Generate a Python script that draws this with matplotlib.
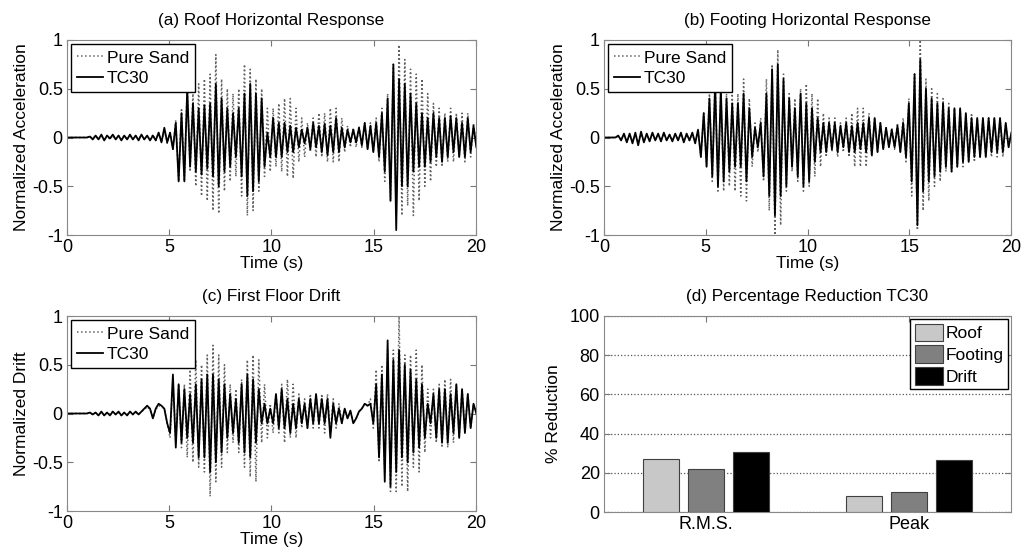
import numpy as np
import matplotlib
matplotlib.use("Agg")
import matplotlib.pyplot as plt

plt.rcParams['font.family'] = ['Liberation Sans', 'DejaVu Sans']

# peak values of each record, one every 0.14 s
dt = 0.14

roof_sand = [
    0, 0, 0, 0, 0, 0, 0, 0, 0.01, -0.01,
    0.02, -0.02, 0.02, -0.02, 0.02, -0.02, 0.02, -0.02, 0.02, -0.02,
    0.02, -0.02, 0.02, -0.02, 0.02, -0.02, 0.03, -0.02, 0.02, -0.03,
    0.03, -0.03, 0.05, -0.05, 0.08, -0.06, 0.05, -0.12, 0.18, -0.45,
    0.3, -0.45, 0.55, -0.35, 0.45, -0.5, 0.55, -0.6, 0.6, -0.65,
    0.65, -0.75, 0.85, -0.78, 0.6, -0.55, 0.5, -0.45, 0.45, -0.4,
    0.5, -0.6, 0.75, -0.8, 0.7, -0.75, 0.6, -0.55, 0.5, -0.4,
    0.3, -0.35, 0.3, -0.3, 0.35, -0.35, 0.4, -0.4, 0.4, -0.42,
    0.3, -0.25, 0.2, -0.2, 0.15, -0.15, 0.2, -0.2, 0.25, -0.2,
    0.25, -0.25, 0.3, -0.25, 0.3, -0.25, 0.2, -0.15, 0.12, -0.1,
    0.1, -0.1, 0.12, -0.1, 0.15, -0.12, 0.15, -0.15, 0.2, -0.25,
    0.3, -0.45, 0.45, -0.65, 0.75, -0.8, 0.95, -0.8, 0.8, -0.7,
    0.7, -0.8, 0.65, -0.65, 0.6, -0.5, 0.45, -0.45, 0.35, -0.3,
    0.3, -0.3, 0.25, -0.25, 0.3, -0.25, 0.25, -0.2, 0.25, -0.25,
    0.25, -0.2, 0.15, -0.1]
roof_tc30 = [
    0, 0, 0, 0, 0, 0, 0, 0, 0.01, -0.02,
    0.02, -0.02, 0.03, -0.03, 0.02, -0.01, 0.03, -0.02, 0.02, -0.03,
    0.02, -0.02, 0.03, -0.02, 0.02, -0.03, 0.03, -0.02, 0.02, -0.03,
    0.02, -0.03, 0.05, -0.05, 0.1, -0.05, 0.05, -0.12, 0.15, -0.45,
    0.25, -0.45, 0.5, -0.3, 0.35, -0.35, 0.3, -0.38, 0.33, -0.32,
    0.35, -0.4, 0.55, -0.5, 0.4, -0.35, 0.3, -0.3, 0.25, -0.2,
    0.3, -0.4, 0.45, -0.6, 0.55, -0.55, 0.45, -0.45, 0.4, -0.3,
    0.05, -0.2, 0.2, -0.2, 0.15, -0.2, 0.15, -0.15, 0.12, -0.15,
    0.1, -0.1, 0.08, -0.06, 0.1, -0.12, 0.15, -0.1, 0.12, -0.15,
    0.14, -0.18, 0.12, -0.15, 0.2, -0.15, 0.1, -0.1, 0.08, -0.05,
    0.08, -0.05, 0.1, -0.08, 0.15, -0.12, 0.12, -0.15, 0.15, -0.2,
    0.25, -0.35, 0.4, -0.65, 0.75, -0.95, 0.6, -0.5, 0.55, -0.5,
    0.45, -0.35, 0.35, -0.3, 0.25, -0.3, 0.2, -0.25, 0.25, -0.2,
    0.2, -0.25, 0.2, -0.2, 0.22, -0.15, 0.2, -0.2, 0.15, -0.2,
    0.2, -0.15, 0.12, -0.1]

footing_sand = [
    0, 0, 0, 0, 0, 0.01, -0.02, 0.03, -0.04, 0.03,
    -0.04, 0.04, -0.05, 0.05, -0.04, 0.03, -0.03, 0.04, -0.03, 0.03,
    -0.03, 0.04, -0.03, 0.03, -0.03, 0.03, -0.03, 0.04, -0.04, 0.03,
    -0.03, 0.04, -0.05, 0.08, -0.2, 0.25, -0.3, 0.45, -0.45, 0.6,
    -0.55, 0.5, -0.55, 0.45, -0.5, 0.45, -0.55, 0.45, -0.6, 0.6,
    -0.65, 0.4, -0.3, 0.15, -0.15, 0.2, -0.45, 0.6, -0.75, 0.75,
    -1.0, 0.9, -0.9, 0.65, -0.55, 0.45, -0.35, 0.4, -0.45, 0.5,
    -0.55, 0.55, -0.5, 0.45, -0.4, 0.4, -0.3, 0.25, -0.2, 0.2,
    -0.15, 0.2, -0.2, 0.15, -0.15, 0.2, -0.2, 0.25, -0.3, 0.3,
    -0.3, 0.3, -0.3, 0.25, -0.2, 0.2, -0.15, 0.15, -0.12, 0.1,
    -0.1, 0.1, -0.12, 0.15, -0.15, 0.2, -0.25, 0.4, -0.6, 0.65,
    -0.95, 1.0, -0.75, 0.6, -0.65, 0.5, -0.5, 0.45, -0.45, 0.4,
    -0.35, 0.35, -0.35, 0.3, -0.3, 0.3, -0.3, 0.25, -0.25, 0.25,
    -0.25, 0.2, -0.2, 0.2, -0.2, 0.2, -0.2, 0.2, -0.2, 0.2,
    -0.2, 0.15, -0.1, 0.05]
footing_tc30 = [
    0, 0, 0, 0, 0, 0.02, -0.03, 0.04, -0.05, 0.04,
    -0.06, 0.05, -0.08, 0.06, -0.05, 0.04, -0.04, 0.05, -0.03, 0.04,
    -0.04, 0.05, -0.03, 0.03, -0.04, 0.04, -0.03, 0.05, -0.05, 0.04,
    -0.03, 0.05, -0.06, 0.08, -0.2, 0.25, -0.3, 0.4, -0.4, 0.55,
    -0.5, 0.5, -0.45, 0.4, -0.35, 0.35, -0.3, 0.35, -0.3, 0.45,
    -0.45, 0.3, -0.2, 0.1, -0.1, 0.15, -0.4, 0.45, -0.6, 0.7,
    -0.8, 0.75, -0.6, 0.6, -0.5, 0.4, -0.3, 0.3, -0.4, 0.45,
    -0.5, 0.35, -0.45, 0.3, -0.25, 0.2, -0.15, 0.15, -0.15, 0.15,
    -0.12, 0.15, -0.15, 0.12, -0.1, 0.15, -0.15, 0.12, -0.15, 0.15,
    -0.12, 0.15, -0.15, 0.2, -0.18, 0.2, -0.15, 0.15, -0.12, 0.1,
    -0.1, 0.08, -0.1, 0.12, -0.15, 0.15, -0.2, 0.35, -0.45, 0.65,
    -0.9, 0.8, -0.55, 0.5, -0.45, 0.4, -0.4, 0.35, -0.35, 0.35,
    -0.3, 0.3, -0.35, 0.3, -0.3, 0.3, -0.25, 0.25, -0.25, 0.2,
    -0.2, 0.2, -0.2, 0.2, -0.2, 0.2, -0.15, 0.2, -0.15, 0.2,
    -0.15, 0.15, -0.1, 0.05]

drift_sand = [
    0, 0, 0, 0, 0, 0, 0, 0, 0.01, -0.01,
    0.01, -0.02, 0.01, -0.02, 0.01, -0.01, 0.02, -0.01, 0.01, -0.02,
    0.01, -0.01, 0.02, -0.01, 0.01, -0.01, 0.02, 0.04, 0.07, 0.04,
    -0.04, 0.04, 0.08, 0.07, 0.05, -0.1, -0.25, 0.35, -0.3, 0.3,
    -0.35, 0.3, -0.45, 0.45, -0.5, 0.55, -0.55, 0.5, -0.6, 0.6,
    -0.85, 0.7, -0.7, 0.6, -0.55, 0.5, -0.4, 0.3, -0.3, 0.25,
    -0.4, 0.35, -0.55, 0.55, -0.65, 0.6, -0.7, 0.55, -0.3, 0.3,
    -0.25, 0.1, -0.2, 0.2, -0.2, 0.3, -0.3, 0.35, -0.25, 0.3,
    -0.25, 0.2, -0.15, 0.15, -0.15, 0.2, -0.15, 0.2, -0.15, 0.2,
    -0.2, 0.2, -0.2, 0.15, -0.15, 0.1, -0.1, 0.05, -0.05, 0.03,
    -0.1, -0.05, 0.02, 0.05, 0.1, 0.08, 0.15, -0.15, 0.45, -0.5,
    0.5, -0.6, 0.65, -0.8, 0.65, -0.8, 1.0, -0.75, 0.6, -0.8,
    0.6, -0.55, 0.65, -0.6, 0.5, -0.4, 0.25, -0.25, 0.25, -0.3,
    0.3, -0.35, 0.35, -0.35, 0.35, -0.3, 0.3, -0.25, 0.25, -0.2,
    0.2, -0.15, 0.1, 0.0]
drift_tc30 = [
    0, 0, 0, 0, 0, 0, 0, 0, 0.01, -0.01,
    0.01, -0.02, 0.02, -0.02, 0.01, -0.02, 0.02, -0.01, 0.02, -0.02,
    0.01, -0.02, 0.02, -0.01, 0.02, -0.01, 0.02, 0.05, 0.08, 0.05,
    -0.05, 0.05, 0.1, 0.08, 0.05, -0.1, -0.2, 0.4, -0.35, 0.3,
    -0.3, 0.25, -0.25, 0.2, -0.3, 0.3, -0.45, 0.35, -0.45, 0.4,
    -0.6, 0.4, -0.5, 0.35, -0.4, 0.3, -0.25, 0.2, -0.2, 0.15,
    -0.3, 0.3, -0.4, 0.4, -0.45, 0.35, -0.3, 0.25, -0.1, 0.1,
    -0.1, 0.05, -0.1, 0.2, -0.15, 0.25, -0.15, 0.15, -0.2, 0.1,
    -0.15, 0.15, -0.1, 0.1, -0.15, 0.15, -0.1, 0.2, -0.1, 0.15,
    -0.1, 0.15, -0.25, 0.1, -0.1, 0.05, -0.1, 0.05, -0.05, 0.03,
    -0.1, -0.05, 0.02, 0.05, 0.1, 0.08, 0.1, -0.1, 0.3, -0.45,
    0.4, -0.7, 0.75, -0.75, 0.55, -0.6, 0.65, -0.45, 0.5, -0.5,
    0.45, -0.4, 0.35, -0.35, 0.3, -0.25, 0.1, -0.1, 0.2, -0.25,
    0.25, -0.3, 0.25, -0.3, 0.2, -0.2, 0.3, -0.25, 0.25, -0.2,
    0.2, -0.15, 0.1, 0.0]

# panel (d)
groups = ['R.M.S.', 'Peak']
red_roof = [27, 8]
red_footing = [22, 10]
red_drift = [30.5, 26.5]


def style_time_axis(ax, title, ylabel):
    ax.set_xlim(0, 20)
    ax.set_ylim(-1, 1)
    ax.set_xticks([0, 5, 10, 15, 20])
    ax.set_yticks([-1, -0.5, 0, 0.5, 1])
    ax.set_yticklabels(['-1', '-0.5', '0', '0.5', '1'])
    ax.set_title(title, fontsize=12.3, pad=11)
    ax.set_ylabel(ylabel, fontsize=12.5, labelpad=2)
    ax.set_xlabel('Time (s)', fontsize=12.5, labelpad=0)
    ax.tick_params(direction='in', top=True, right=True, length=4,
                   labelsize=13, color='#777777', pad=3)
    for s in ax.spines.values():
        s.set_color('#888888')
    ax.legend(loc='upper left', fontsize=12.5, frameon=True, fancybox=False,
              edgecolor='black', framealpha=1, borderaxespad=0.25,
              handlelength=1.5, handletextpad=0.2, borderpad=0.35,
              labelspacing=0.3)


def plot_record(ax, sand, tc, title, ylabel):
    t_s = np.arange(len(sand)) * dt
    t_t = np.arange(len(tc)) * dt
    ax.plot(t_s, sand, ':', color='#606060', lw=1.1, label='Pure Sand')
    ax.plot(t_t, tc, '-', color='black', lw=1.3, label='TC30')
    style_time_axis(ax, title, ylabel)


fig = plt.figure(figsize=(10.26, 5.54), dpi=100)
ax_a = fig.add_axes([0.0653, 0.5758, 0.3986, 0.352])
ax_b = fig.add_axes([0.5887, 0.5758, 0.3967, 0.352])
ax_c = fig.add_axes([0.0653, 0.0776, 0.3986, 0.352])
ax_d = fig.add_axes([0.5887, 0.0758, 0.3967, 0.354])

plot_record(ax_a, roof_sand, roof_tc30, '(a) Roof Horizontal Response',
            'Normalized Acceleration')
plot_record(ax_b, footing_sand, footing_tc30, '(b) Footing Horizontal Response',
            'Normalized Acceleration')
plot_record(ax_c, drift_sand, drift_tc30, '(c) First Floor Drift',
            'Normalized Drift')

# bar panel
x = np.arange(1, len(groups) + 1)
w = 0.177
ax_d.bar(x - 0.222, red_roof, w, color='#c8c8c8', edgecolor='#404040',
         lw=0.8, label='Roof', zorder=3)
ax_d.bar(x, red_footing, w, color='#808080', edgecolor='#404040',
         lw=0.8, label='Footing', zorder=3)
ax_d.bar(x + 0.222, red_drift, w, color='black', edgecolor='#404040',
         lw=0.8, label='Drift', zorder=3)
ax_d.set_xlim(0.5, 2.5)
ax_d.set_ylim(0, 100)
ax_d.set_xticks(x)
ax_d.set_xticklabels(groups)
ax_d.set_yticks([0, 20, 40, 60, 80, 100])
ax_d.yaxis.grid(True, linestyle=':', color='#555555', lw=0.9)
ax_d.set_axisbelow(True)
ax_d.set_title('(d) Percentage Reduction TC30', fontsize=12.3, pad=11)
ax_d.set_ylabel('% Reduction', fontsize=12.5, labelpad=6)
ax_d.tick_params(direction='in', top=True, right=True, length=4,
                 labelsize=13, color='#777777', pad=3)
for s in ax_d.spines.values():
    s.set_color('#888888')
ax_d.legend(loc='upper right', fontsize=12.5, frameon=True, fancybox=False,
            edgecolor='black', framealpha=1, borderaxespad=0.2,
            handlelength=1.6, handleheight=1.2, handletextpad=0.15,
            borderpad=0.25, labelspacing=0.22)

fig.savefig('out.png', dpi=100)
